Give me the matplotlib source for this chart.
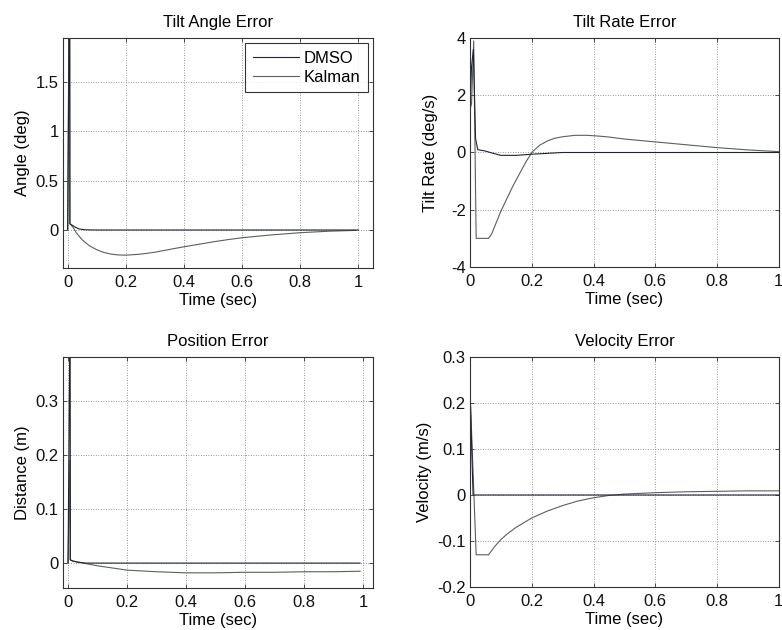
import numpy as np
import matplotlib.pyplot as plt

plt.rcParams["font.family"] = ["Liberation Sans", "DejaVu Sans"]
FS = 12

DMSO_COLOR = "#1e2236"
KALMAN_COLOR = "#596256"

# Tilt angle error (deg)
angle_t_dmso = [0.0, 0.007, 0.008, 0.015, 0.025, 0.04, 0.06, 0.1, 0.3, 0.6, 1.0]
angle_dmso = [0.0, 3.0, 0.06, 0.05, 0.03, 0.01, 0.002, 0.0, 0.0, 0.0, 0.0]
angle_t_kal = [0.0, 0.006, 0.007, 0.012, 0.02, 0.03, 0.05, 0.075, 0.1, 0.125, 0.15,
               0.175, 0.2, 0.25, 0.3, 0.35, 0.4, 0.45, 0.5, 0.55, 0.6, 0.7, 0.8,
               0.9, 0.99]
angle_kal = [0.0, 3.0, 0.07, 0.05, 0.02, -0.03, -0.1, -0.16, -0.2, -0.228, -0.245,
             -0.253, -0.255, -0.245, -0.225, -0.197, -0.17, -0.145, -0.12, -0.098,
             -0.078, -0.05, -0.027, -0.012, -0.004]

# Tilt rate error (deg/s)
rate_t_dmso = [0.0, 0.005, 0.011, 0.018, 0.025, 0.05, 0.075, 0.1, 0.15, 0.2, 0.25,
               0.3, 0.5, 1.0]
rate_dmso = [1.5, 3.0, 3.6, 0.5, 0.1, 0.05, -0.03, -0.1, -0.1, -0.06, -0.03, 0.0,
             0.0, 0.0]
rate_t_kal = [0.0, 0.005, 0.012, 0.02, 0.06, 0.07, 0.085, 0.1, 0.12, 0.14, 0.16,
              0.18, 0.2, 0.225, 0.25, 0.275, 0.3, 0.34, 0.38, 0.42, 0.45, 0.5, 0.6,
              0.7, 0.8, 0.9, 1.0]
rate_kal = [1.5, 1.7, 3.9, -3.0, -3.0, -2.85, -2.45, -2.05, -1.6, -1.15, -0.75,
            -0.35, 0.0, 0.25, 0.4, 0.5, 0.55, 0.6, 0.6, 0.57, 0.54, 0.47, 0.37,
            0.27, 0.17, 0.09, 0.03]

# Position error (m)
pos_t_dmso = [0.0, 0.007, 0.008, 0.015, 0.03, 0.06, 0.1, 0.5, 0.99]
pos_dmso = [0.0, 0.5, 0.006, 0.004, 0.002, 0.0, 0.0, 0.0, 0.0]
pos_t_kal = [0.0, 0.006, 0.007, 0.015, 0.05, 0.1, 0.15, 0.2, 0.3, 0.4, 0.5, 0.6,
             0.7, 0.8, 0.9, 0.99]
pos_kal = [0.0, 0.19, 0.006, 0.004, 0.0, -0.005, -0.009, -0.013, -0.016, -0.018,
           -0.018, -0.017, -0.017, -0.016, -0.016, -0.015]

# Velocity error (m/s)
vel_t_dmso = [0.0, 0.01, 0.02, 0.5, 1.0]
vel_dmso = [0.23, 0.0, 0.0, 0.0, 0.0]
vel_t_kal = [0.0, 0.02, 0.06, 0.08, 0.1, 0.12, 0.15, 0.2, 0.25, 0.3, 0.35, 0.4,
             0.45, 0.5, 0.6, 0.7, 0.8, 0.9, 1.0]
vel_kal = [0.23, -0.13, -0.13, -0.112, -0.097, -0.085, -0.07, -0.05, -0.035,
           -0.023, -0.013, -0.006, -0.001, 0.002, 0.005, 0.007, 0.008, 0.009,
           0.009]

panels = [
    dict(rect=[0.0806, 0.5746, 0.3964, 0.365], title="Tilt Angle Error",
         ylabel="Angle (deg)", ylpad=4, xlim=(-0.016, 1.05), ylim=(-0.385, 1.945),
         yticks=[0, 0.5, 1, 1.5], ytl=["0", "0.5", "1", "1.5"],
         dm=(angle_t_dmso, angle_dmso), ka=(angle_t_kal, angle_kal), legend=True),
    dict(rect=[0.601, 0.5762, 0.395, 0.3635], title="Tilt Rate Error",
         ylabel="Tilt Rate (deg/s)", ylpad=9, xlim=(0, 1), ylim=(-4, 4),
         yticks=[-4, -2, 0, 2, 4], ytl=["-4", "-2", "0", "2", "4"],
         dm=(rate_t_dmso, rate_dmso), ka=(rate_t_kal, rate_kal), legend=False),
    dict(rect=[0.0806, 0.0667, 0.3964, 0.3667], title="Position Error",
         ylabel="Distance (m)", ylpad=4, xlim=(-0.017, 1.034), ylim=(-0.046, 0.381),
         yticks=[0, 0.1, 0.2, 0.3], ytl=["0", "0.1", "0.2", "0.3"],
         dm=(pos_t_dmso, pos_dmso), ka=(pos_t_kal, pos_kal), legend=False),
    dict(rect=[0.601, 0.0683, 0.395, 0.365], title="Velocity Error",
         ylabel="Velocity (m/s)", ylpad=4, xlim=(0, 1), ylim=(-0.2, 0.3),
         yticks=[-0.2, -0.1, 0, 0.1, 0.2, 0.3],
         ytl=["-0.2", "-0.1", "0", "0.1", "0.2", "0.3"],
         dm=(vel_t_dmso, vel_dmso), ka=(vel_t_kal, vel_kal), legend=False),
]

xticks = [0, 0.2, 0.4, 0.6, 0.8, 1]
xtl = ["0", "0.2", "0.4", "0.6", "0.8", "1"]

fig = plt.figure(figsize=(7.82, 6.3), dpi=100)

for p in panels:
    ax = fig.add_axes(p["rect"])
    ax.plot(p["ka"][0], p["ka"][1], color=KALMAN_COLOR, linewidth=0.8, label="Kalman")
    ax.plot(p["dm"][0], p["dm"][1], color=DMSO_COLOR, linewidth=0.8, label="DMSO")
    ax.set_xlim(p["xlim"])
    ax.set_ylim(p["ylim"])
    ax.set_xticks(xticks)
    ax.set_xticklabels(xtl)
    ax.set_yticks(p["yticks"])
    ax.set_yticklabels(p["ytl"])
    ax.tick_params(direction="in", length=3, width=0.6, top=True, right=True,
                   labelsize=FS, pad=3, colors="#333333", labelcolor="#111111")
    ax.tick_params(axis="x", pad=5)
    ax.grid(True, linestyle=(0, (1, 2)), color="#777777", linewidth=0.6)
    for s in ax.spines.values():
        s.set_linewidth(0.8)
        s.set_color("#333333")
    ax.set_title(p["title"], fontsize=FS, pad=8)
    ax.set_xlabel("Time (sec)", fontsize=FS, labelpad=2.5)
    ax.set_ylabel(p["ylabel"], fontsize=FS, labelpad=p["ylpad"])
    if p["legend"]:
        h, l = ax.get_legend_handles_labels()
        leg = ax.legend(h[::-1], l[::-1], loc="upper right", fontsize=FS,
                        frameon=True, fancybox=False, borderaxespad=0.3,
                        handlelength=2.75, handletextpad=0.3, borderpad=0.45,
                        labelspacing=0.25)
        leg.get_frame().set_edgecolor("black")
        leg.get_frame().set_linewidth(0.8)

fig.savefig("out.png", dpi=100)
